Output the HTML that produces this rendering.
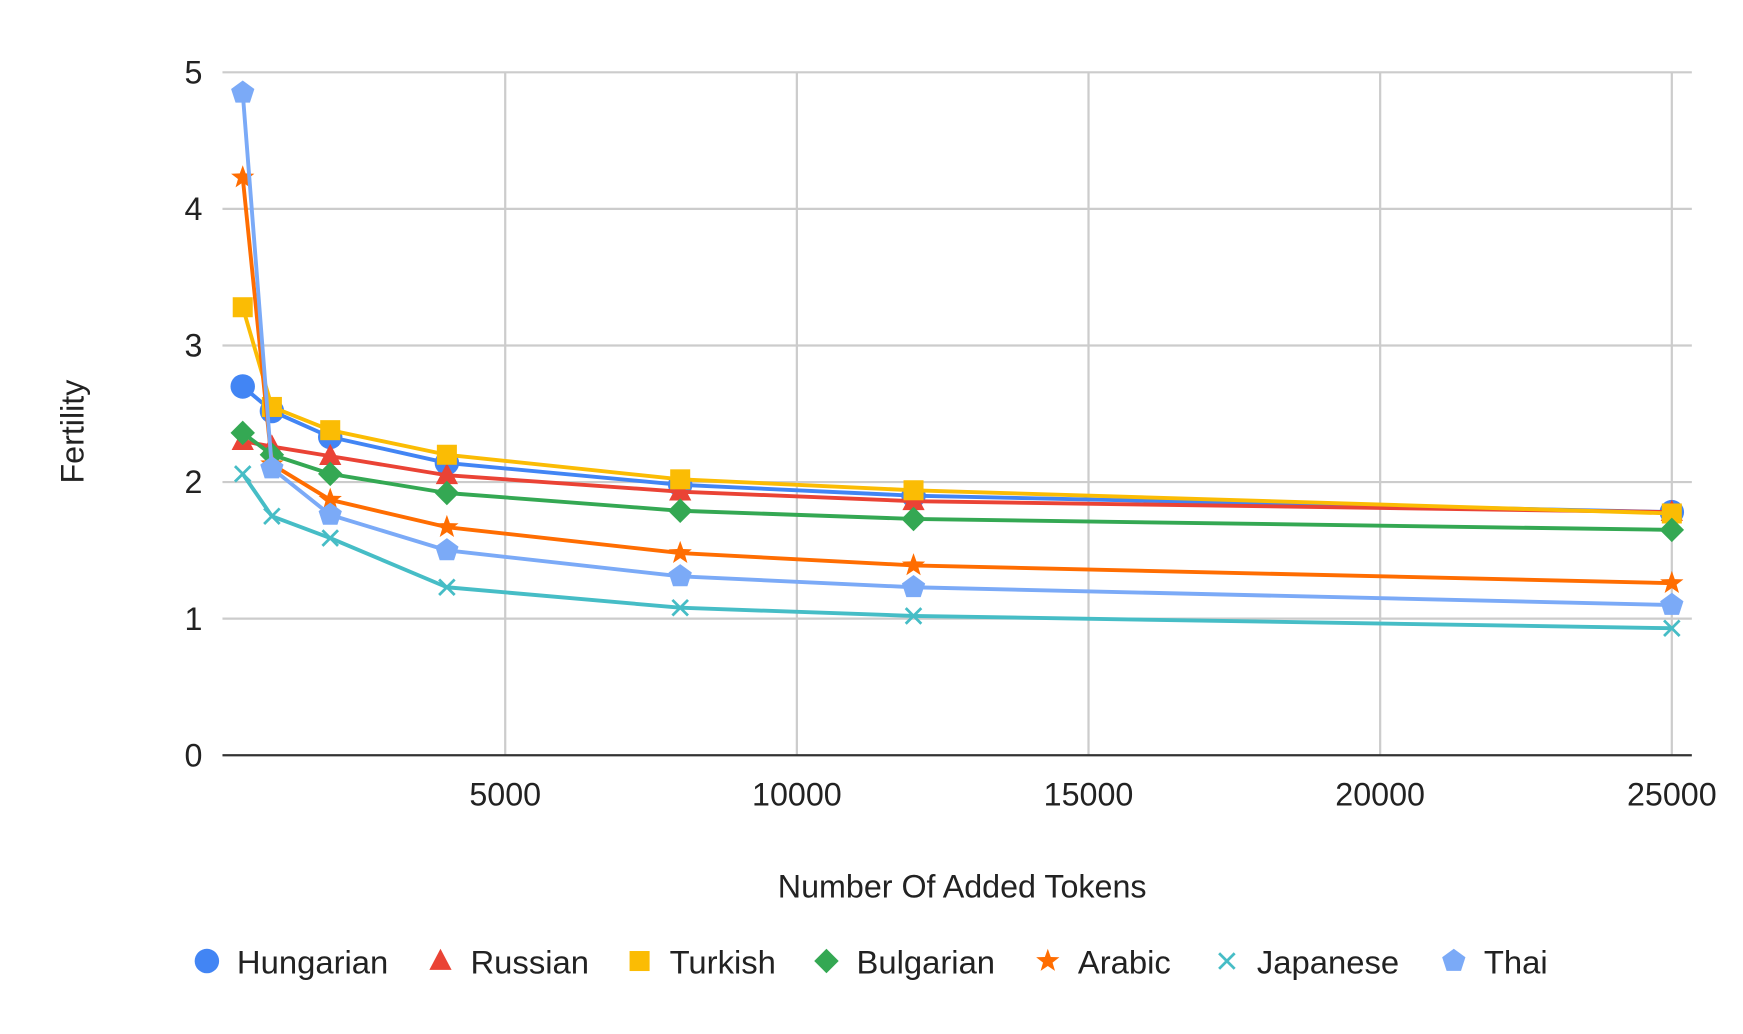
<!DOCTYPE html>
<html><head><meta charset="utf-8"><style>
html,body{margin:0;padding:0;background:#fff}
svg{display:block;font-family:"Liberation Sans",Arial,sans-serif}
</style></head><body>
<svg id="chart" width="1743" height="1034" viewBox="0 0 1567 929.6" preserveAspectRatio="none" xmlns="http://www.w3.org/2000/svg">
<g id="grid"></g>
<g id="axes"></g>
<g id="series"></g>
<g id="legend"></g>
</svg>
<script>
const tokens = [500, 1000, 2000, 4000, 8000, 12000, 25000];
const hungarian = [2.70, 2.52, 2.33, 2.14, 1.98, 1.90, 1.78];
const russian = [2.30, 2.26, 2.19, 2.05, 1.93, 1.86, 1.78];
const turkish = [3.28, 2.55, 2.38, 2.20, 2.02, 1.94, 1.77];
const bulgarian = [2.36, 2.20, 2.06, 1.92, 1.79, 1.73, 1.65];
const arabic = [4.23, 2.13, 1.87, 1.67, 1.48, 1.39, 1.26];
const japanese = [2.06, 1.75, 1.59, 1.23, 1.08, 1.02, 0.93];
const thai = [4.85, 2.10, 1.76, 1.50, 1.31, 1.23, 1.10];
const seriesNames = ["Hungarian", "Russian", "Turkish", "Bulgarian", "Arabic", "Japanese", "Thai"];
const xTicks = [5000, 10000, 15000, 20000, 25000];
const yTicks = [0, 1, 2, 3, 4, 5];

const NS = "http://www.w3.org/2000/svg";
const L = 200, R = 1521, T = 65, B = 679;
function xs(v){ return 192 + v * (1503 - 192) / 25000; }
function ys(v){ return B - v * (B - T) / 5; }
function mk(tag, attrs, parent){ const e = document.createElementNS(NS, tag); for (const k in attrs) e.setAttribute(k, attrs[k]); parent.appendChild(e); return e; }

const grid = document.getElementById('grid'), axes = document.getElementById('axes'),
      ser = document.getElementById('series'), leg = document.getElementById('legend');

yTicks.forEach(t => {
  if (t > 0) {
    const g = mk('line', {x1:L, x2:R, y1:ys(t), y2:ys(t), stroke:'#cccccc', 'stroke-width':2}, grid);
    
    
  }
  const tx = mk('text', {x:182, y:ys(t)+10, 'text-anchor':'end', 'font-size':29, fill:'#222'}, axes);
  tx.textContent = t;
  
  
});
xTicks.forEach(t => {
  const g = mk('line', {x1:xs(t), x2:xs(t), y1:T, y2:B, stroke:'#cccccc', 'stroke-width':2}, grid);
  
  
  const tx = mk('text', {x:xs(t), y:724, 'text-anchor':'middle', 'font-size':29, fill:'#222'}, axes);
  tx.textContent = t;
  
  
});
const ax = mk('line', {x1:L, x2:R, y1:B, y2:B, stroke:'#333', 'stroke-width':2}, axes);


const yt = mk('text', {x:0, y:0, transform:'translate(75,388) rotate(-90)', 'text-anchor':'middle', 'font-size':29, fill:'#222'}, axes);
yt.textContent = 'Fertility';


const xt = mk('text', {x:865, y:807, 'text-anchor':'middle', 'font-size':29, fill:'#222'}, axes);
xt.textContent = 'Number Of Added Tokens';



const colors = ['#4285F4', '#EA4335', '#FBBC04', '#34A853', '#FF6D01', '#46BDC6', '#7BAAF7'];
const shapes = ['circle', 'triangle', 'square', 'diamond', 'star', 'x', 'pentagon'];
function marker(shape, cx, cy, col, parent){
  const s = 11;
  if (shape === 'circle') return mk('circle', {cx, cy, r:s, fill:col}, parent);
  if (shape === 'square') return mk('rect', {x:cx-9, y:cy-9, width:18, height:18, fill:col}, parent);
  let pts = [];
  if (shape === 'triangle') pts = [[0,-11],[10,8],[-10,8]];
  if (shape === 'diamond') pts = [[0,-11],[11,0],[0,11],[-11,0]];
  if (shape === 'pentagon') for (let i=0;i<5;i++){ const a=-Math.PI/2+i*2*Math.PI/5; pts.push([11*Math.cos(a),11*Math.sin(a)]); }
  if (shape === 'star') for (let i=0;i<10;i++){ const a=-Math.PI/2+i*Math.PI/5, r=i%2?4.5:11; pts.push([r*Math.cos(a),r*Math.sin(a)]); }
  if (shape === 'x') {
    return mk('path', {d:`M${cx-7},${cy-7}L${cx+7},${cy+7}M${cx+7},${cy-7}L${cx-7},${cy+7}`, stroke:col, 'stroke-width':2.5, fill:'none'}, parent);
  }
  return mk('polygon', {points: pts.map(p => (cx+p[0])+','+(cy+p[1])).join(' '), fill:col}, parent);
}

const allSeries = [hungarian, russian, turkish, bulgarian, arabic, japanese, thai];
allSeries.forEach((vals, i) => {
  const g = mk('g', {}, ser);
  
  
  const d = vals.map((v, j) => (j ? 'L' : 'M') + xs(tokens[j]) + ',' + ys(v)).join('');
  const p = mk('path', {d, stroke:colors[i], 'stroke-width':3.5, fill:'none', 'stroke-linejoin':'round'}, g);
  
  
  vals.forEach((v, j) => {
    const m = marker(shapes[i], xs(tokens[j]), ys(v), colors[i], g);
    
    
  });
});

const legX = [186, 396, 575, 743, 942, 1103, 1307];
seriesNames.forEach((n, i) => {
  const g = mk('g', {}, leg);
  
  
  marker(shapes[i], legX[i], 864, colors[i], g);
  const t = mk('text', {x:legX[i]+27, y:875, 'font-size':29.5, fill:'#222'}, g);
  t.textContent = n;
});
</script>
</body></html>
